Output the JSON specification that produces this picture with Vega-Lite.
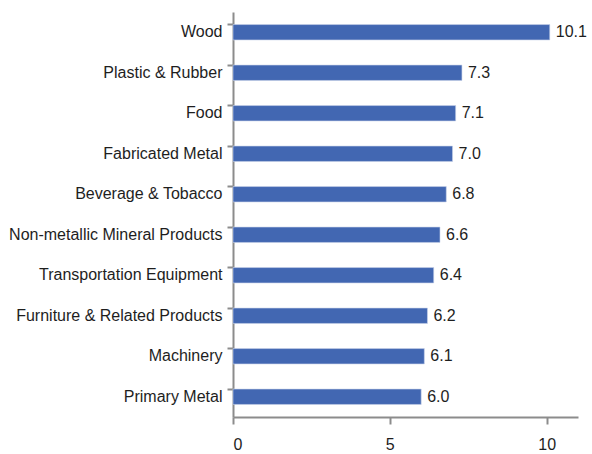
{
  "$schema": "https://vega.github.io/schema/vega-lite/v6.json",
  "autosize": "none",
  "width": 345,
  "height": 405,
  "padding": {"left": 233, "top": 12, "right": 14, "bottom": 37},
  "background": "white",
  "config": {
    "view": {"stroke": null},
    "font": "Liberation Sans",
    "axis": {"grid": false, "domainColor": "#8c8c8c", "tickColor": "#8c8c8c", "domainWidth": 2, "tickWidth": 2, "labelColor": "#1e1e1e", "labelFont": "Liberation Sans", "labelFontSize": 16, "labelLimit": 0, "title": null}
  },
  "data": {
    "values": [
      {"industry": "Wood", "value": 10.1},
      {"industry": "Plastic & Rubber", "value": 7.3},
      {"industry": "Food", "value": 7.1},
      {"industry": "Fabricated Metal", "value": 7.0},
      {"industry": "Beverage & Tobacco", "value": 6.8},
      {"industry": "Non-metallic Mineral Products", "value": 6.6},
      {"industry": "Transportation Equipment", "value": 6.4},
      {"industry": "Furniture & Related Products", "value": 6.2},
      {"industry": "Machinery", "value": 6.1},
      {"industry": "Primary Metal", "value": 6.0}
    ]
  },
  "encoding": {
    "y": {
      "field": "industry", "type": "nominal", "sort": null,
      "scale": {"paddingInner": 0.62, "paddingOuter": 0.31},
      "axis": {"bandPosition": 0, "tickSize": 6, "labelPadding": 5, "domainWidth": 2}
    },
    "x": {
      "field": "value", "type": "quantitative",
      "scale": {"domain": [0, 11], "nice": false},
      "axis": {"values": [0, 5, 10], "tickSize": 7, "labelPadding": 12, "format": "d"}
    }
  },
  "layer": [
    {"mark": {"type": "bar", "color": "#4267b2", "stroke": "#c9d4ea", "strokeWidth": 0.6}},
    {
      "mark": {"type": "text", "align": "left", "dx": 6, "fontSize": 16, "color": "#1e1e1e", "font": "Liberation Sans"},
      "encoding": {"text": {"field": "value", "type": "quantitative", "format": ".1f"}}
    }
  ]
}
